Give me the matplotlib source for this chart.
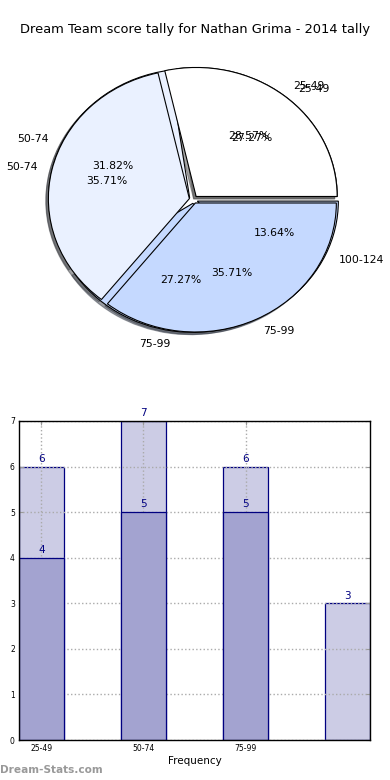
import matplotlib
matplotlib.use("Agg")
import matplotlib.pyplot as plt
import numpy as np

title = "Dream Team score tally for Nathan Grima - 2014 tally"
cats_all = ["25-49", "50-74", "75-99", "100-124"]
series_a = [6, 7, 6, 3]          # light series (all ranges)
cats_b = ["25-49", "50-74", "75-99"]
series_b = [4, 5, 5]             # dark series
xtick_labels = ["25-49", "50-74", "75-99"]
yticks = [0, 1, 2, 3, 4, 5, 6, 7]

pie_colors_a = ["#ffffff", "#eaf1ff", "#c5d9ff", "#c5d9ff"]
pie_colors_b = ["#ffffff", "#eaf1ff", "#c5d9ff"]

fig = plt.figure(figsize=(3.9, 7.8), dpi=100)
fig.text(0.5, 1 - 30 / 780, title, ha="center", va="center", fontsize=9.4)

# ---- pie ----
rx, ry = 141, 129
cx, cy = 193.5, 199.5
axp = fig.add_axes([(cx - 1.25 * rx) / 390, (780 - (cy + 1.25 * ry)) / 780,
                    2.5 * rx / 390, 2.5 * ry / 780])
wp = dict(edgecolor="black", linewidth=0.8)
shadow = dict(ox=-0.013, oy=-0.013)
axp.pie(series_a, labels=cats_all, colors=pie_colors_a, autopct="%.2f%%",
        explode=[0.03] * 4, shadow=shadow, startangle=0, wedgeprops=wp,
        textprops=dict(fontsize=7.8))
axp.pie(series_b, labels=cats_b, colors=pie_colors_b, autopct="%.2f%%",
        explode=[0.03] * 3, shadow=shadow, startangle=0, wedgeprops=wp,
        textprops=dict(fontsize=7.8))
axp.set_aspect("auto")
axp.set_xlim(-1.25, 1.25)
axp.set_ylim(-1.25, 1.25)
axp.axis("off")

# ---- bars ----
axb = fig.add_axes([19 / 390, 40 / 780, 351 / 390, 319 / 780])
x_a = np.arange(len(series_a))
x_b = np.arange(len(series_b))
w = 0.44
navy = "#000080"
axb.bar(x_a, series_a, width=w, color="#ccccE5", edgecolor=navy, linewidth=0.9, zorder=2)
axb.bar(x_b, series_b, width=w, color="#a3a3d0", edgecolor=navy, linewidth=0.9, zorder=3)
for xi, v in zip(x_a, series_a):
    axb.text(xi, v + 0.06, str(v), ha="center", va="bottom", color=navy, fontsize=7.5, zorder=5)
for xi, v in zip(x_b, series_b):
    axb.text(xi, v + 0.06, str(v), ha="center", va="bottom", color=navy, fontsize=7.5, zorder=5)
axb.set_xlim(-w / 2, 3 + w / 2)
axb.set_ylim(0, 7)
axb.set_xticks(np.arange(len(xtick_labels)))
axb.set_xticklabels(xtick_labels, fontsize=5.5)
axb.set_yticks(yticks)
axb.set_yticklabels([str(t) for t in yticks], fontsize=5.5)
axb.tick_params(direction="in", length=3, top=True, right=True, pad=3, color="#999999")
axb.grid(True, linestyle=":", color="#aaaaaa", linewidth=1.0, zorder=4)
axb.set_axisbelow(False)
for s in axb.spines.values():
    s.set_linewidth(1.0)
    s.set_zorder(6)
axb.set_xlabel("Frequency", fontsize=7.5, labelpad=2)

fig.text(0.0, 1 - 770 / 780, "Dream-Stats.com", ha="left", va="center",
         fontsize=7.6, color="#999999", fontweight="bold")

fig.savefig("out.png", dpi=100)
